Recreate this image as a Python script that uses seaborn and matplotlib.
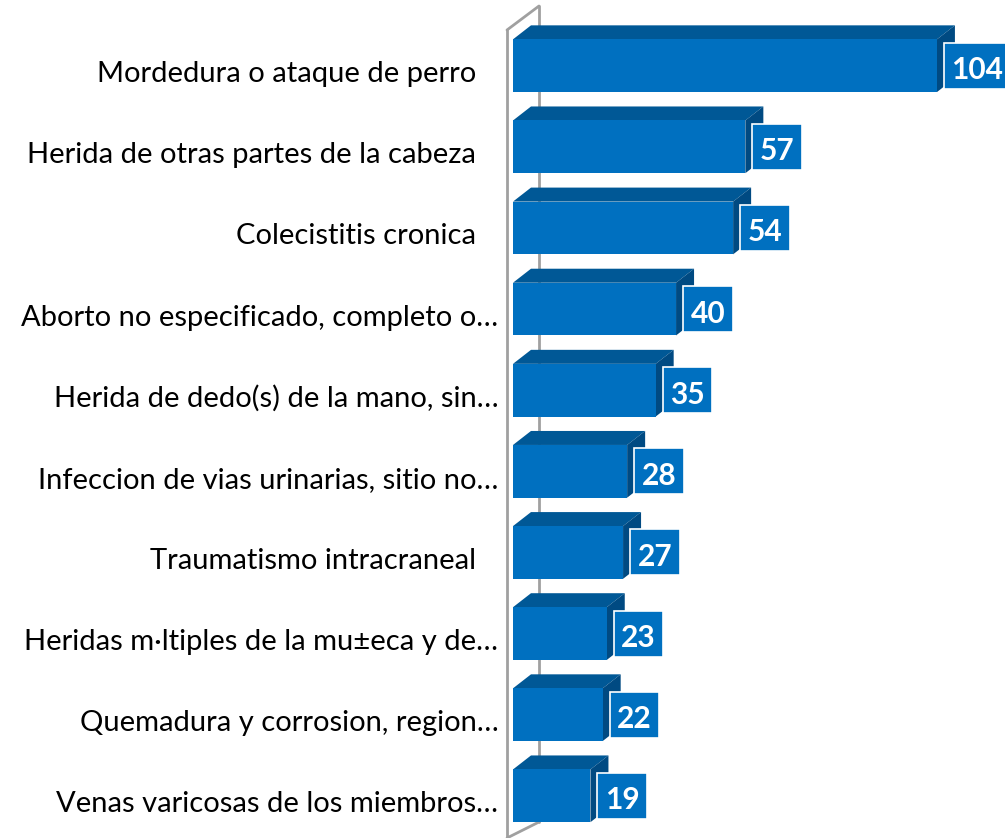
import matplotlib
matplotlib.use("Agg")
import matplotlib.pyplot as plt
import seaborn as sns
import pandas as pd
from matplotlib.patches import Polygon, Rectangle
from matplotlib.lines import Line2D
from matplotlib.transforms import IdentityTransform, ScaledTranslation

categories = [
    "Mordedura o ataque de perro   ",
    "Herida de otras partes de la cabeza   ",
    "Colecistitis cronica   ",
    "Aborto no especificado, completo o…",
    "Herida de dedo(s) de la mano, sin…",
    "Infeccion de vias urinarias, sitio no…",
    "Traumatismo intracraneal   ",
    "Heridas m·ltiples de la mu±eca y de…",
    "Quemadura y corrosion, region…",
    "Venas varicosas de los miembros…",
]
counts = [104, 57, 54, 40, 35, 28, 27, 23, 22, 19]

FRONT = "#0070C0"
TOP = "#005896"
SIDE = "#004A82"
WALL = "#A0A0A0"
BAR_DX, BAR_DY = 18, 14    # depth of the 3d bars, pixels
WALL_DX, WALL_DY = 32, 24  # depth of the axis wall, pixels

sns.set_theme(style="white")
plt.rcParams["font.family"] = ["Lato", "DejaVu Sans"]

df = pd.DataFrame({"label": categories, "count": counts})

fig = plt.figure(figsize=(10.05, 8.38), dpi=100)
ax = fig.add_axes([513 / 1005, 0, 492 / 1005, 1])
sns.barplot(data=df, x="count", y="label", color=FRONT, saturation=1,
            width=0.65, linewidth=0, ax=ax, zorder=3)

ax.set_xlim(0, 120.7)
ax.set_ylim(9.52, -0.81)
ax.set_xlabel("")
ax.set_ylabel("")
ax.set_xticks([])
sns.despine(ax=ax, left=True, bottom=True)
ax.tick_params(axis="y", length=0, pad=10.5, labelsize=21, labelcolor="black")
shift = ScaledTranslation(0, -6 / 100, fig.dpi_scale_trans)
for lbl in ax.get_yticklabels():
    lbl.set_transform(lbl.get_transform() + shift)

fig.canvas.draw()
renderer = fig.canvas.get_renderer()
ident = IdentityTransform()

# axis wall behind the bars
x_zero = ax.transData.transform((0, 0))[0]
H = fig.bbox.height
fx = x_zero - 6
wall = [
    [(fx, 0), (fx, H - 30)],
    [(fx, H - 30), (fx + WALL_DX, H - 30 + WALL_DY)],
    [(fx + WALL_DX, H - 30 + WALL_DY), (fx + WALL_DX, WALL_DY - 8)],
    [(fx, 0), (fx + WALL_DX, WALL_DY - 8)],
]
for seg in wall:
    (xa, ya), (xb, yb) = seg
    ax.add_line(Line2D([xa, xb], [ya, yb], color=WALL, lw=2,
                       transform=ident, clip_on=False, zorder=1))

# top and side faces plus value boxes
for patch, v in zip(ax.patches, counts):
    bb = patch.get_window_extent(renderer)
    x0, x1, y0, y1 = bb.x0, bb.x1, bb.y0, bb.y1
    top = Polygon([(x0, y1), (x1, y1), (x1 + BAR_DX, y1 + BAR_DY), (x0 + BAR_DX, y1 + BAR_DY)],
                  closed=True, fc=TOP, ec="none", transform=ident, clip_on=False, zorder=2)
    side = Polygon([(x1, y0), (x1, y1), (x1 + BAR_DX, y1 + BAR_DY), (x1 + BAR_DX, y0 + BAR_DY)],
                   closed=True, fc=SIDE, ec="none", transform=ident, clip_on=False, zorder=2)
    ax.add_patch(top)
    ax.add_patch(side)

    yc = (y0 + y1) / 2
    t = ax.text(0, 0, str(v), color="white", fontsize=21.5, fontweight="bold",
                ha="center", va="center_baseline", transform=ident, zorder=6, clip_on=False)
    w = t.get_window_extent(renderer).width
    bw = w + 15
    left = x1 + 7
    t.set_position((left + bw / 2, yc - 2))
    ax.add_patch(Rectangle((left, yc - 23), bw, 46, fc=FRONT, ec="white", lw=1.2,
                           transform=ident, clip_on=False, zorder=5))

fig.savefig("out.png", dpi=100)
